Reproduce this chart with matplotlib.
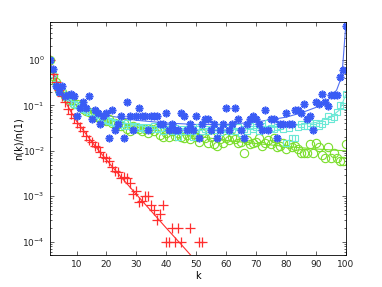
import numpy as np
import matplotlib
matplotlib.use("Agg")
from matplotlib import pyplot as plt
from matplotlib.ticker import LogLocator, NullFormatter

# ---- data ----
k_all = list(range(1, 101))

blue_vals = [1.0, 0.63, 0.27, 0.20, 0.27, 0.157, 0.167, 0.176, 0.157, 0.059,
             0.088, 0.118, 0.088, 0.157, 0.049, 0.078, 0.069, 0.039, 0.059, 0.069,
             0.0196, 0.078, 0.0294, 0.039, 0.059, 0.0196, 0.118, 0.059, 0.0294, 0.059,
             0.088, 0.059, 0.059, 0.0294, 0.059, 0.059, 0.059, 0.039, 0.039, 0.069,
             0.0294, 0.039, 0.0294, 0.0294, 0.069, 0.059, 0.0294, 0.039, 0.0294, 0.059,
             0.0196, 0.039, 0.049, 0.049, 0.0294, 0.039, 0.0196, 0.0294, 0.039, 0.088,
             0.0294, 0.039, 0.088, 0.049, 0.0294, 0.0196, 0.039, 0.049, 0.059, 0.049,
             0.039, 0.0294, 0.078, 0.0294, 0.049, 0.049, 0.0196, 0.039, 0.039, 0.069,
             0.039, 0.039, 0.078, 0.078, 0.069, 0.108, 0.049, 0.059, 0.0294, 0.118,
             0.108, 0.176, 0.118, 0.098, 0.167, 0.167, 0.167, 0.43, 0.6, 5.5]

cyan_vals = [1.0, 0.5, 0.3, 0.2, 0.2, 0.15, 0.14, 0.12, 0.11, 0.1,
             0.09, 0.085, 0.08, 0.07, 0.07, 0.065, 0.06, 0.055, 0.05, 0.048,
             0.045, 0.043, 0.04, 0.042, 0.038, 0.036, 0.04, 0.035, 0.033, 0.036,
             0.032, 0.034, 0.03, 0.033, 0.031, 0.035, 0.03, 0.032, 0.028, 0.033,
             0.03, 0.028, 0.032, 0.02, 0.03, 0.028, 0.031, 0.027, 0.02, 0.03,
             0.033, 0.028, 0.03, 0.027, 0.031, 0.029, 0.033, 0.026, 0.03, 0.032,
             0.028, 0.03, 0.027, 0.033, 0.025, 0.03, 0.028, 0.035, 0.03, 0.033,
             0.028, 0.035, 0.03, 0.041, 0.032, 0.03, 0.034, 0.036, 0.03, 0.015,
             0.032, 0.0196, 0.0196, 0.034, 0.038, 0.036, 0.035, 0.04, 0.033, 0.04,
             0.036, 0.038, 0.045, 0.058, 0.05, 0.055, 0.07, 0.1, 0.096, 0.177]

green_vals = [1.0, 0.45, 0.33, 0.22, 0.2, 0.16, 0.14, 0.13, 0.11, 0.11,
              0.095, 0.085, 0.075, 0.07, 0.065, 0.07, 0.055, 0.05, 0.048, 0.045,
              0.05, 0.04, 0.042, 0.038, 0.035, 0.04, 0.03, 0.028, 0.035, 0.032,
              0.03, 0.028, 0.03, 0.025, 0.03, 0.028, 0.032, 0.022, 0.02, 0.025,
              0.02, 0.028, 0.021, 0.025, 0.02, 0.019, 0.022, 0.018, 0.024, 0.02,
              0.016, 0.025, 0.019, 0.015, 0.02, 0.014, 0.013, 0.018, 0.015, 0.019,
              0.017, 0.02, 0.018, 0.015, 0.016, 0.009, 0.017, 0.014, 0.015, 0.016,
              0.019, 0.013, 0.015, 0.017, 0.014, 0.019, 0.012, 0.013, 0.015, 0.011,
              0.014, 0.012, 0.013, 0.011, 0.009, 0.009, 0.009, 0.014, 0.009, 0.015,
              0.012, 0.008, 0.007, 0.012, 0.007, 0.009, 0.007, 0.006, 0.006, 0.014]

red_k = [1, 2, 3, 4, 5, 6, 7, 8, 9, 10, 11, 12, 13, 14, 15, 16, 17, 18, 19, 20,
         21, 22, 23, 24, 25, 26, 27, 28, 29, 30, 31, 32, 33, 34, 35, 36, 37, 38, 39,
         40, 41, 42, 43, 44, 45, 48, 51, 52]
red_vals = [1.0, 0.5, 0.33, 0.22, 0.16, 0.12, 0.085, 0.065, 0.052, 0.042,
            0.034, 0.027, 0.021, 0.017, 0.016, 0.013, 0.012, 0.0095, 0.0074, 0.007,
            0.006, 0.0045, 0.0036, 0.0035, 0.0025, 0.0027, 0.0025, 0.002, 0.0011, 0.0013,
            0.00075, 0.0008, 0.001, 0.001, 0.00063, 0.0005, 0.0003, 0.0004, 0.00063,
            0.0001, 0.0001, 0.0002, 0.0001, 0.0002, 0.0001, 0.0002, 0.0001, 0.0001]

# fitted curves (knots)
blue_fit_k = [1, 2, 3, 5, 8, 12, 20, 30, 40, 50, 60, 70, 80, 85, 90, 94, 96, 97, 98, 99, 100]
blue_fit = [1.0, 0.55, 0.36, 0.2, 0.12, 0.085, 0.06, 0.047, 0.041, 0.038, 0.038,
            0.043, 0.055, 0.068, 0.09, 0.13, 0.18, 0.22, 0.33, 0.75, 5.5]
cyan_fit_k = [1, 2, 3, 5, 10, 20, 30, 40, 50, 60, 70, 80, 90, 95, 98, 100]
cyan_fit = [1.0, 0.5, 0.33, 0.2, 0.1, 0.05, 0.036, 0.031, 0.029, 0.029, 0.031,
            0.034, 0.042, 0.055, 0.08, 0.17]
green_fit_k = [1, 2, 3, 5, 10, 15, 20, 30, 40, 50, 60, 70, 80, 90, 100]
green_fit = [1.0, 0.5, 0.33, 0.2, 0.1, 0.068, 0.05, 0.033, 0.026, 0.021, 0.017,
             0.0145, 0.0125, 0.011, 0.01]
red_fit_k = [1, 3, 5, 8, 10, 15, 20, 25, 30, 35, 40, 45, 50]
red_fit = [1.0, 0.4, 0.17, 0.075, 0.045, 0.016, 0.0063, 0.0026, 0.0011, 0.00047,
           0.0002, 8.7e-5, 3.7e-5]

c_blue = '#3a5cf5'
c_cyan = '#6ae8d6'
c_green = '#7ade2a'
c_red = '#ff2e2e'

fig = plt.figure(figsize=(3.82, 2.87), dpi=100)
ax = fig.add_axes([0.13, 0.11, 0.775, 0.815])

ax.semilogy(red_fit_k, red_fit, '-', color=c_red, lw=0.8)
ax.semilogy(green_fit_k, green_fit, '-', color=c_green, lw=0.8)
ax.semilogy(cyan_fit_k, cyan_fit, '-', color=c_cyan, lw=0.8)
ax.semilogy(blue_fit_k, blue_fit, '-', color='#5270f2', lw=0.8)

ax.semilogy(k_all, green_vals, 'o', mfc='none', mec=c_green, ms=6, mew=0.8)
ax.semilogy(k_all, cyan_vals, 's', mfc='none', mec=c_cyan, ms=5, mew=0.8)
ax.semilogy(red_k, red_vals, '+', color=c_red, ms=6.5, mew=0.9)
ax.semilogy(k_all, blue_vals, ls='none', marker=(8, 2, 0), color=c_blue, ms=5.5, mew=1.2)

ax.set_xlim(1, 100)
ax.set_ylim(5e-5, 7)
ax.set_xticks([10, 20, 30, 40, 50, 60, 70, 80, 90, 100])
ax.yaxis.set_major_locator(LogLocator(base=10, numticks=10))
ax.yaxis.set_minor_locator(LogLocator(base=10, subs=np.arange(2, 10), numticks=20))
ax.yaxis.set_minor_formatter(NullFormatter())
ax.tick_params(which='both', direction='in', top=True, right=True, labelsize=6.5,
               width=0.5, colors='#222222')
ax.tick_params(which='major', length=3)
ax.tick_params(which='minor', length=1.5)
for s in ax.spines.values():
    s.set_linewidth(0.6)
ax.set_xlabel('k', fontsize=7, labelpad=1)
ax.set_ylabel('n(k)/n(1)', fontsize=7, labelpad=-1)

plt.savefig('out.png', dpi=100)
